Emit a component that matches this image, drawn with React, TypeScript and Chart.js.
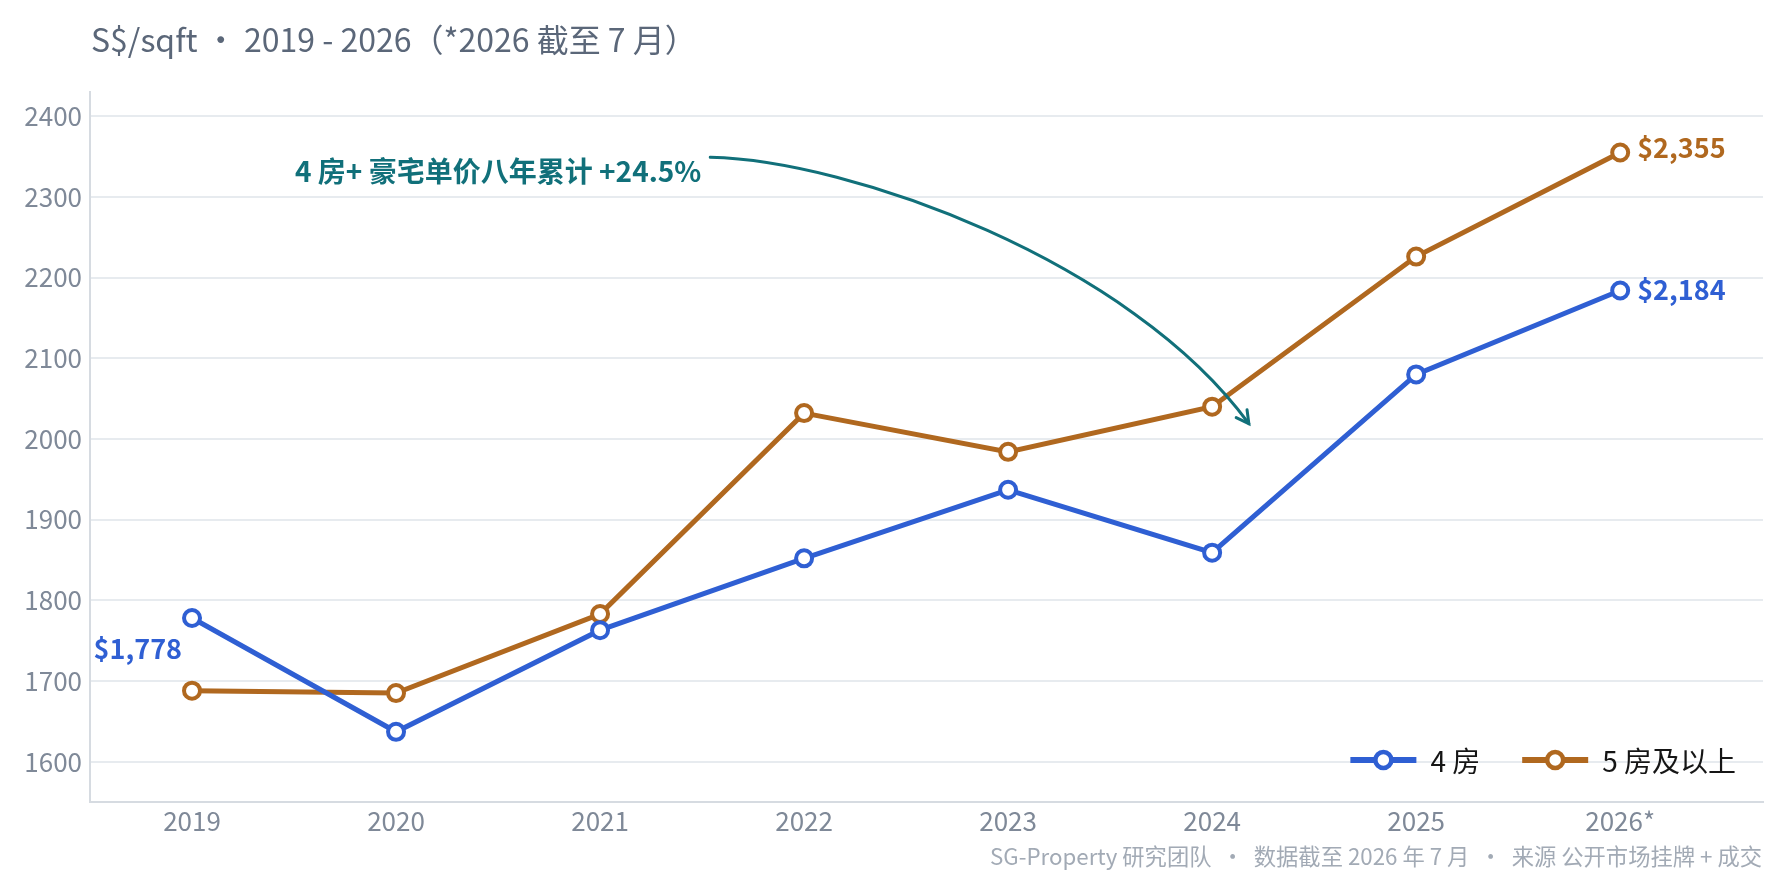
import { useEffect, useRef } from "react";
import { Chart, registerables } from "chart.js";

Chart.register(...registerables);

// Years on the x axis (2026 is year-to-date)
const years = ["2019", "2020", "2021", "2022", "2023", "2024", "2025", "2026*"];
// Average price per square foot (S$)
const fourRoom = [1778, 1637, 1763, 1852, 1937, 1859, 2080, 2184];
const fivePlusRoom = [1688, 1685, 1783, 2032, 1984, 2040, 2226, 2355];
const seriesNames = ["4 房", "5 房及以上"];
const seriesColors = ["#2f5fd3", "#b0681f"];
const yTickValues = [1600, 1700, 1800, 1900, 2000, 2100, 2200, 2300, 2400];

const titleText = "S$/sqft · 2019 - 2026（*2026 截至 7 月）";
const footerText = "SG-Property 研究团队  ·  数据截至 2026 年 7 月  ·  来源 公开市场挂牌 + 成交";
const noteText = "4 房+ 豪宅单价八年累计 +24.5%";
// Arrow of the note, in data units (x = year index, y = S$/sqft)
const noteStart = { x: 2.54, y: 2349 };
const noteEnd = { x: 5.18, y: 2019 };

const FONT = '"Noto Sans CJK SC", "Noto Sans", sans-serif';
const NOTE_COLOR = "#11707a";

const fmt = (v: number) => "$" + v.toLocaleString("en-US");

const decorPlugin = {
  id: "decor",
  afterDatasetsDraw(chart: any) {
    const { ctx, chartArea } = chart;
    const xs = chart.scales.x;
    const ys = chart.scales.y;
    ctx.save();

    // value labels
    ctx.font = `700 27px ${FONT}`;
    ctx.textBaseline = "middle";
    const last = years.length - 1;
    const m0 = chart.getDatasetMeta(0).data;
    const m1 = chart.getDatasetMeta(1).data;
    ctx.fillStyle = seriesColors[0];
    ctx.textAlign = "left";
    ctx.fillText(fmt(fourRoom[last]), m0[last].x + 17, m0[last].y - 1);
    ctx.textAlign = "right";
    ctx.fillText(fmt(fourRoom[0]), m0[0].x - 10, m0[0].y + 31);
    ctx.fillStyle = seriesColors[1];
    ctx.textAlign = "left";
    ctx.fillText(fmt(fivePlusRoom[last]), m1[last].x + 17, m1[last].y - 5);

    // note with curved arrow
    const sx = xs.getPixelForValue(noteStart.x);
    const sy = ys.getPixelForValue(noteStart.y);
    const ex = xs.getPixelForValue(noteEnd.x);
    const ey = ys.getPixelForValue(noteEnd.y);
    const c1x = sx + 140, c1y = sy + 3;
    const c2x = ex - 119, c2y = ey - 163;
    ctx.strokeStyle = NOTE_COLOR;
    ctx.lineWidth = 3;
    ctx.lineCap = "round";
    ctx.beginPath();
    ctx.moveTo(sx, sy);
    ctx.bezierCurveTo(c1x, c1y, c2x, c2y, ex, ey);
    ctx.stroke();
    const ang = Math.atan2(ey - c2y, ex - c2x);
    const head = 14;
    ctx.beginPath();
    ctx.moveTo(ex - head * Math.cos(ang - 0.5), ey - head * Math.sin(ang - 0.5));
    ctx.lineTo(ex, ey);
    ctx.lineTo(ex - head * Math.cos(ang + 0.5), ey - head * Math.sin(ang + 0.5));
    ctx.stroke();

    ctx.fillStyle = NOTE_COLOR;
    ctx.font = `700 28px ${FONT}`;
    ctx.textAlign = "right";
    ctx.textBaseline = "middle";
    ctx.fillText(noteText, sx - 9, sy + 14);

    // legend inside the plot, bottom right
    ctx.font = `400 28px ${FONT}`;
    ctx.textAlign = "left";
    const ly = chartArea.bottom - 42;
    const markW = 66;
    const gapText = 14;
    const gapItem = 42;
    const widths = seriesNames.map((n) => ctx.measureText(n).width);
    let total = 0;
    widths.forEach((w, i) => {
      total += markW + gapText + w + (i < widths.length - 1 ? gapItem : 0);
    });
    let lx = chartArea.right - 27 - total;
    seriesNames.forEach((name, i) => {
      ctx.strokeStyle = seriesColors[i];
      ctx.lineWidth = 6;
      ctx.lineCap = "butt";
      ctx.beginPath();
      ctx.moveTo(lx, ly);
      ctx.lineTo(lx + markW, ly);
      ctx.stroke();
      ctx.beginPath();
      ctx.arc(lx + markW / 2, ly, 8, 0, Math.PI * 2);
      ctx.fillStyle = "#ffffff";
      ctx.fill();
      ctx.lineWidth = 4.5;
      ctx.stroke();
      ctx.fillStyle = "#151515";
      ctx.fillText(name, lx + markW + gapText, ly + 1);
      lx += markW + gapText + widths[i] + gapItem;
    });
    ctx.restore();
  },
  afterDraw(chart: any) {
    const { ctx, width, height } = chart;
    ctx.save();
    ctx.textBaseline = "middle";
    ctx.textAlign = "left";
    ctx.fillStyle = "#5b6779";
    ctx.font = `400 32px ${FONT}`;
    ctx.fillText(titleText, 91, 40);

    ctx.textAlign = "right";
    ctx.fillStyle = "#a2aab5";
    ctx.font = `400 22.3px ${FONT}`;
    ctx.fillText(footerText, width - 23, height - 28);
    ctx.restore();
  },
};

export default function App() {
  const canvasRef = useRef<HTMLCanvasElement | null>(null);

  useEffect(() => {
    const canvas = canvasRef.current;
    if (!canvas) return;
    const mk = (vals: number[]) => vals.map((v, i) => ({ x: i, y: v }));
    const chart = new Chart(canvas, {
      type: "line",
      data: {
        datasets: [fourRoom, fivePlusRoom].map((vals, i) => ({
          label: seriesNames[i],
          data: mk(vals),
          borderColor: seriesColors[i],
          backgroundColor: "#ffffff",
          borderWidth: 5,
          pointRadius: 8,
          pointBorderWidth: 4,
          pointBackgroundColor: "#ffffff",
          pointBorderColor: seriesColors[i],
          tension: 0,
          fill: false,
        })),
      },
      options: {
        animation: false,
        responsive: false,
        devicePixelRatio: 1,
        layout: { padding: { top: 92, right: 22, left: 0, bottom: 0 } },
        plugins: {
          legend: { display: false },
          tooltip: { enabled: false },
          title: { display: false },
        },
        scales: {
          x: {
            type: "linear",
            min: -0.5,
            max: 7.7,
            afterBuildTicks: (s: any) => {
              s.ticks = years.map((_, i) => ({ value: i }));
            },
            afterFit: (s: any) => {
              s.height = 83;
            },
            ticks: {
              autoSkip: false,
              maxRotation: 0,
              padding: 4,
              color: "#7f8998",
              font: { family: FONT, size: 26 },
              callback: (v: any) => years[v] ?? "",
            },
            grid: { display: false, drawTicks: false },
            border: { display: true, color: "#d6dbe1", width: 2 },
          },
          y: {
            min: 1550,
            max: 2430,
            afterBuildTicks: (s: any) => {
              s.ticks = yTickValues.map((v) => ({ value: v }));
            },
            afterFit: (s: any) => {
              s.width = 90;
            },
            ticks: {
              padding: 8,
              color: "#7f8998",
              font: { family: FONT, size: 26 },
              callback: (v: any) => String(v),
            },
            grid: { color: "#e7ebef", lineWidth: 2, drawTicks: false },
            border: { display: true, color: "#d6dbe1", width: 2 },
          },
        },
      },
      plugins: [decorPlugin],
    });
    return () => chart.destroy();
  }, []);

  return (
    <div style={{ position: "absolute", left: 0, top: 0, width: 1785, height: 885, background: "#ffffff" }}>
      <canvas ref={canvasRef} width={1785} height={885} style={{ display: "block", width: 1785, height: 885 }} />
    </div>
  );
}
